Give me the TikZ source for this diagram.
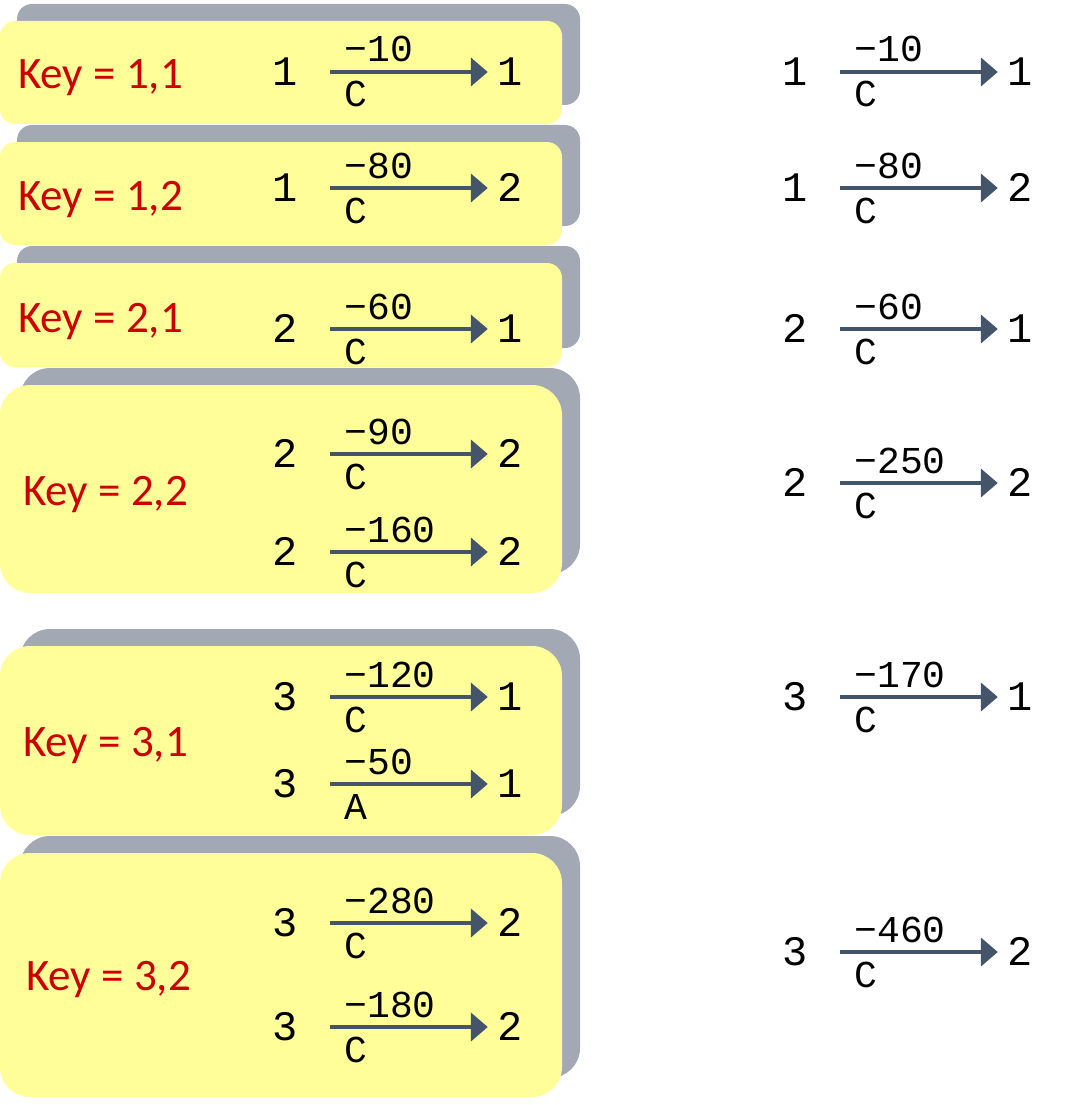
\documentclass[tikz,border=0pt]{standalone}
\usepackage{fontspec}
\setmainfont{Carlito}
\newfontfamily\monofont{Liberation Mono}
\usetikzlibrary{arrows.meta,positioning}
\definecolor{boxyellow}{HTML}{FFFE99}
\definecolor{boxgray}{HTML}{A3A9B4}
\definecolor{keyred}{HTML}{CC0000}
\definecolor{edgeslate}{HTML}{44546A}

\begin{document}
\begin{tikzpicture}[x=1pt,y=-1pt,
    keylabel/.style={anchor=base west, inner sep=0, text=keyred, font=\fontsize{45}{45}\selectfont},
    srcnum/.style={inner sep=0, text height=27pt, text depth=0pt, minimum width=90pt, font=\monofont\fontsize{42}{42}\selectfont},
    dstnum/.style={srcnum, minimum width=44pt},
    wlabel/.style={inner sep=0, anchor=base west, font=\monofont\fontsize{38}{38}\selectfont},
    edge/.style={draw=edgeslate, line width=4.5pt, -{Triangle[length=17pt,width=28pt]}}]
    \useasboundingbox (0,0) rectangle (1066,1105);

    % grouped boxes with their keys
    \foreach \t/\b/\r/\g/\kx/\ky/\ki/\kj in {21/124/15/17/18/89/1/1, 142/245/15/17/18/210/1/2,
        263/367/15/17/18/332/2/1, 385/593/30/20/23/505/2/2,
        646/835/30/20/23/756/3/1, 853/1097/30/20/26/990/3/2} {
        \fill[boxgray, rounded corners=\r pt] (\g,\t-17) rectangle (580,\b-19);
        \fill[boxyellow, rounded corners=\r pt] (0,\t) rectangle (562,\b);
        \node[keylabel] (key\ki\kj) at (\kx,\ky) {Key = \ki,\kj};
    }

    % edges inside the boxes
    \foreach \y/\a/\w/\l/\z/\n in {72/1/10/C/1/a, 188/1/80/C/2/b, 329/2/60/C/1/c,
        454/2/90/C/2/d, 552/2/160/C/2/e, 697/3/120/C/1/f, 784/3/50/A/1/g,
        923/3/280/C/2/h, 1027/3/180/C/2/i} {
        \node[srcnum] (src\n) at (285,\y) {\a};
        \node[dstnum] (dst\n) at (510,\y) {\z};
        \draw[edge] (src\n.east) -- node[pos=0, wlabel, xshift=12pt, yshift=10pt] (w\n) {−\w}
            node[pos=0, wlabel, xshift=12pt, yshift=-35pt] (l\n) {\l} (dst\n.west);
    }

    % combined edges
    \foreach \y/\a/\w/\z/\n in {72/1/10/1/a, 188/1/80/2/b, 329/2/60/1/c,
        483/2/250/2/d, 697/3/170/1/e, 952/3/460/2/f} {
        \node[srcnum] (rsrc\n) at (795,\y) {\a};
        \node[dstnum] (rdst\n) at (1020,\y) {\z};
        \draw[edge] (rsrc\n.east) -- node[pos=0, wlabel, xshift=12pt, yshift=10pt] (rw\n) {−\w}
            node[pos=0, wlabel, xshift=12pt, yshift=-35pt] (rl\n) {C} (rdst\n.west);
    }
\end{tikzpicture}
\end{document}
